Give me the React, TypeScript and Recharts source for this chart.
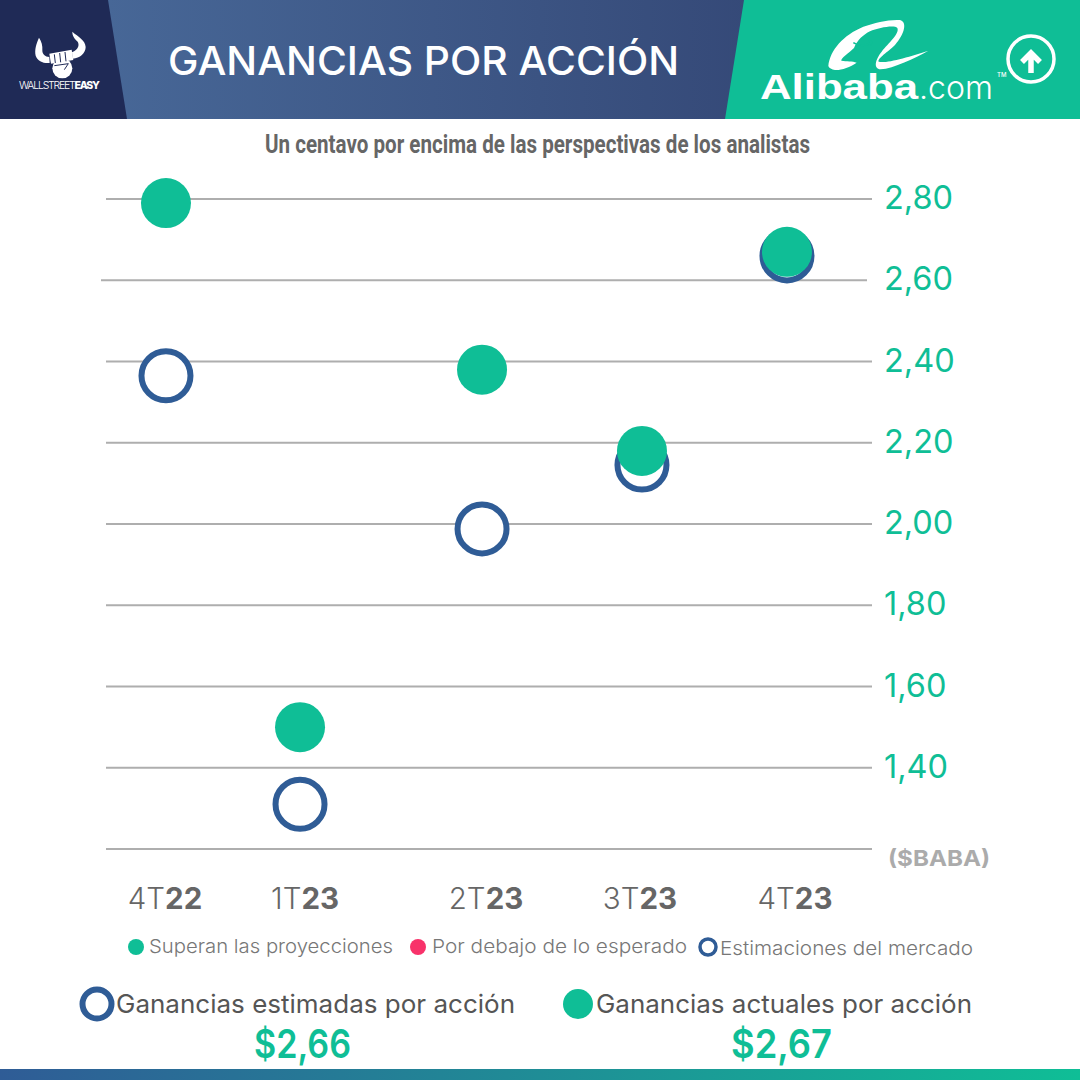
// Ganancias por acción de Alibaba: estimadas frente a actuales
import { ScatterChart, Scatter, XAxis, YAxis, CartesianGrid } from "recharts";

const quarterPrefix = ["4T", "1T", "2T", "3T", "4T"];
const quarterYear = ["22", "23", "23", "23", "23"];
// Los trimestres no están repartidos por igual en el original
const quarterSlot = [7.83, 25.33, 49.09, 69.97, 88.9];
const labelNudge = [-1, 5, 4, -2, 8];
const estimatedEps = [2.365, 1.31, 1.988, 2.145, 2.66];
const actualEps = [2.79, 1.5, 2.38, 2.18, 2.67];
const yTicks = [1.2, 1.4, 1.6, 1.8, 2.0, 2.2, 2.4, 2.6, 2.8];

const GREEN = "#0FBE96";
const BLUE = "#2F5C96";
const GRID = "#AEAEAE";
const GREY = "#666666";
const NAVY = "#1F2A56";
const FONT = "Inter, sans-serif";

const estimatedData = quarterSlot.map((x, i) => ({ x, y: estimatedEps[i] }));
const actualData = quarterSlot.map((x, i) => ({ x, y: actualEps[i] }));

function EstimatedDot(props: any) {
  return <circle cx={props.cx} cy={props.cy} r={24.5} fill="#fff" stroke={BLUE} strokeWidth={6} />;
}

function ActualDot(props: any) {
  return <circle cx={props.cx} cy={props.cy} r={25} fill={GREEN} />;
}

function QuarterTick(props: any) {
  const i = props.index;
  return (
    <text
      x={props.x + labelNudge[i]}
      y={909}
      textAnchor="middle"
      fontFamily={FONT}
      fontSize={29.5}
      fill={GREY}
      fontWeight={300}
    >
      {quarterPrefix[i]}
      <tspan fontWeight={700}>{quarterYear[i]}</tspan>
    </text>
  );
}

function PriceTick(props: any) {
  if (props.payload.value < 1.3) return null;
  return (
    <text
      x={884}
      y={props.y + 10}
      fontFamily={FONT}
      fontSize={32.5}
      fontWeight={400}
      fill={GREEN}
    >
      {props.payload.value.toFixed(2).replace(".", ",")}
    </text>
  );
}

// La línea de 2,60 está algo desplazada a la izquierda en el original
function GridLine(props: any) {
  const shift = props.index === 7 ? -5 : 0;
  return (
    <line
      x1={props.x1 + shift}
      x2={props.x2 + shift}
      y1={props.y1}
      y2={props.y2}
      stroke={GRID}
      strokeWidth={2}
    />
  );
}

function Header() {
  return (
    <g>
      <defs>
        <linearGradient id="band" x1="0" x2="1" y1="0" y2="0">
          <stop offset="0" stopColor="#4A6C9C" />
          <stop offset="1" stopColor="#2C3A68" />
        </linearGradient>
        <linearGradient id="foot" x1="0" x2="1" y1="0" y2="0">
          <stop offset="0" stopColor={BLUE} />
          <stop offset="1" stopColor={GREEN} />
        </linearGradient>
      </defs>
      <rect x={0} y={0} width={1080} height={119} fill="url(#band)" />
      <polygon points="0,0 108,0 127,119 0,119" fill={NAVY} />
      <polygon points="744,0 1080,0 1080,119 725,119" fill={GREEN} />
      <text
        x={168}
        y={74.5}
        fontFamily={FONT}
        fontSize={40}
        fontWeight={500}
        fill="#fff"
        textLength={511}
        lengthAdjust="spacingAndGlyphs"
      >
        GANANCIAS POR ACCIÓN
      </text>

      {/* logo del toro */}
      <g transform="translate(15 25) scale(0.3333)" fill="#fff">
        <path d="M72 38 C64 55 58 75 62 92 C68 108 85 116 104 114 L103 96 C90 96 82 88 82 76 C83 62 80 50 72 38 Z" />
        <path d="M172 20 C172 34 180 42 188 50 C194 60 190 74 171 82 L173 101 C195 100 212 84 212 66 C210 44 190 36 172 20 Z" />
        <path d="M103 86 L170 74 L175 105 L108 116 Z" />
        <circle cx={142} cy={130} r={30} />
        <path d="M118 88 L121 114 M134 84 L137 112 M150 81 L153 109" stroke={NAVY} strokeWidth={3} fill="none" />
        <path d="M118 122 L160 116 L148 134" stroke={NAVY} strokeWidth={3} fill="none" />
      </g>
      <text x={19} y={89} fontFamily={FONT} fontSize={10.5} fill="#fff" fontWeight={300} textLength={81}>
        WALLSTREET<tspan fontWeight={800}>EASY</tspan>
      </text>

      {/* logo de Alibaba */}
      <g transform="translate(820 10) scale(0.3333)" fill="#fff">
        <path d="M25 168 C30 120 70 75 130 50 C165 38 205 28 240 30 C262 36 255 70 225 105 C205 125 172 145 176 155 C195 162 270 140 325 122 C285 145 220 175 182 178 C160 176 165 150 185 125 C205 100 240 70 232 54 C222 44 175 54 150 64 C130 74 112 90 102 114 C85 130 62 145 64 152 C80 155 97 152 110 158 C90 172 60 182 45 180 C35 178 27 175 25 168 Z" />
        <path d="M100 98 C118 110 140 108 155 96 M146 92 L155 96 L152 105" fill="none" stroke={GREEN} strokeWidth={5} />
      </g>
      <text x={760} y={99} fontFamily="Liberation Sans, sans-serif" fontSize={35} fontWeight={700} fill="#fff" textLength={158} lengthAdjust="spacingAndGlyphs">
        Alibaba
      </text>
      <text x={919} y={99} fontFamily={FONT} fontSize={32} fontWeight={300} fill="#fff">
        .com
      </text>
      <text x={997} y={77} fontFamily={FONT} fontSize={6} fontWeight={500} fill="#fff">
        TM
      </text>
      <circle cx={1031} cy={59} r={23} fill="none" stroke="#fff" strokeWidth={3.5} />
      <path d="M1031 73 L1031 53 M1022 62 L1031 53 L1040 62" fill="none" stroke="#fff" strokeWidth={5.5} />

      <text
        x={265}
        y={153}
        fontFamily="Roboto, sans-serif"
        fontSize={25}
        fontWeight={700}
        fill={GREY}
        textLength={545}
        lengthAdjust="spacingAndGlyphs"
      >
        Un centavo por encima de las perspectivas de los analistas
      </text>
    </g>
  );
}

function Footer() {
  const stretch = { lengthAdjust: "spacingAndGlyphs" };
  const legendText = { fontFamily: FONT, fontSize: 19, fill: "#777", fontWeight: 300, ...stretch };
  const keyText = { fontFamily: FONT, fontSize: 25.5, fill: "#555", fontWeight: 400, ...stretch };
  const valueText = { fontFamily: FONT, fontSize: 39, fill: GREEN, fontWeight: 600, ...stretch };
  return (
    <g>
      <text x={888} y={866} fontFamily={FONT} fontSize={22} fontWeight={700} fill="#ABABAB" textLength={102} lengthAdjust="spacingAndGlyphs">
        ($BABA)
      </text>

      <circle cx={136} cy={947} r={8} fill={GREEN} />
      <text x={149} y={953} {...legendText} textLength={244}>Superan las proyecciones</text>
      <circle cx={418} cy={947} r={8} fill="#F8326A" />
      <text x={432} y={953} {...legendText} textLength={255}>Por debajo de lo esperado</text>
      <circle cx={708} cy={947} r={8} fill="#fff" stroke={BLUE} strokeWidth={3.5} />
      <text x={720} y={955} {...legendText} textLength={253}>Estimaciones del mercado</text>

      <circle cx={97} cy={1004} r={14.5} fill="#fff" stroke={BLUE} strokeWidth={6} />
      <text x={116} y={1013} {...keyText} textLength={399}>Ganancias estimadas por acción</text>
      <circle cx={578} cy={1004} r={15} fill={GREEN} />
      <text x={596} y={1013} {...keyText} textLength={376}>Ganancias actuales por acción</text>

      <text x={254} y={1058} {...valueText} textLength={97}>$2,66</text>
      <text x={731} y={1058} {...valueText} textLength={101}>$2,67</text>

      <rect x={0} y={1069} width={1080} height={11} fill="url(#foot)" />
    </g>
  );
}

export default function App() {
  return (
    <div style={{ position: "absolute", left: 0, top: 0, width: 1080, height: 1080, background: "#fff" }}>
      <svg width={1080} height={1080} style={{ position: "absolute", left: 0, top: 0 }}>
        <Header />
        <Footer />
      </svg>
      <div style={{ position: "absolute", left: 0, top: 0 }}>
        <ScatterChart
          width={1080}
          height={1080}
          margin={{ top: 199, right: 108, bottom: 171, left: 106 }}
        >
          <CartesianGrid horizontal={(p: any) => <GridLine key={p.index} {...p} />} vertical={false} />
          <XAxis
            type="number"
            dataKey="x"
            domain={[0, 100]}
            ticks={quarterSlot}
            height={60}
            axisLine={false}
            tickLine={false}
            tick={<QuarterTick />}
            interval={0}
          />
          <YAxis
            type="number"
            dataKey="y"
            orientation="right"
            domain={[1.2, 2.8]}
            ticks={yTicks}
            width={100}
            axisLine={false}
            tickLine={false}
            tick={<PriceTick />}
            interval={0}
          />
          <Scatter data={estimatedData} shape={<EstimatedDot />} isAnimationActive={false} />
          <Scatter data={actualData} shape={<ActualDot />} isAnimationActive={false} />
        </ScatterChart>
      </div>
    </div>
  );
}
